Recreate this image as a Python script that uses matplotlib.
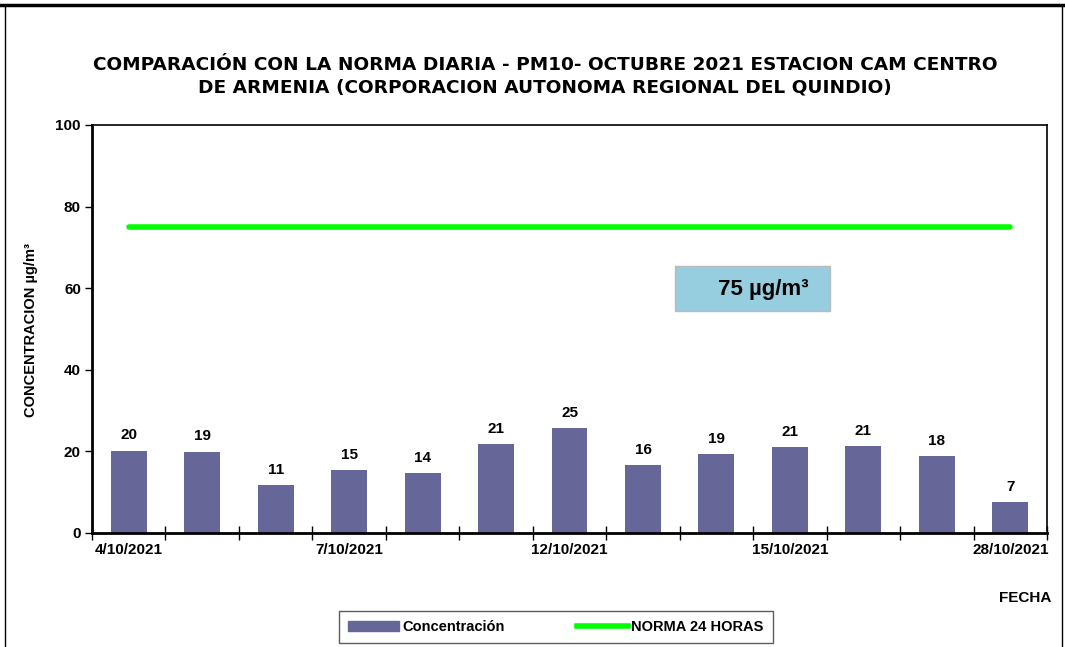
import numpy as np
import matplotlib.pyplot as plt
from matplotlib.lines import Line2D
from matplotlib.patches import Patch, Rectangle

plt.rcParams['font.family'] = ['Liberation Sans', 'DejaVu Sans']

fechas = ["4/10/2021", "5/10/2021", "6/10/2021", "7/10/2021", "8/10/2021",
          "11/10/2021", "12/10/2021", "13/10/2021", "14/10/2021", "15/10/2021",
          "18/10/2021", "19/10/2021", "28/10/2021"]
concentracion = [20.2, 19.9, 11.8, 15.4, 14.6, 21.8, 25.7, 16.6, 19.3, 21.0, 21.3, 18.8, 7.6]
etiquetas = ["20", "19", "11", "15", "14", "21", "25", "16", "19", "21", "21", "18", "7"]
norma = [75] * len(fechas)
ticks_mostrados = [0, 3, 6, 9, 12]

fig = plt.figure(figsize=(10.65, 6.47), dpi=100)
ax = fig.add_axes([92 / 1065, 114 / 647, 955 / 1065, 408 / 647])

x = np.arange(len(fechas))
ax.bar(x, concentracion, width=0.49, color="#666699", label="Concentración", zorder=2)
ax.plot(x, norma, color="#00ff00", lw=4, solid_capstyle="round", label="NORMA 24 HORAS", zorder=3)

for xi, v, t in zip(x, concentracion, etiquetas):
    ax.annotate(t, (xi, v), xytext=(0, 6), textcoords="offset points",
                ha="center", va="bottom", fontsize=11, fontweight="bold")

ax.set_xlim(-0.5, len(fechas) - 0.5)
ax.set_ylim(0, 100)
ax.set_yticks([0, 20, 40, 60, 80, 100])
ax.tick_params(axis="y", direction="out", length=5, width=1, labelsize=11, pad=3)
for lab in ax.get_yticklabels():
    lab.set_fontweight("bold")

# ticks at category boundaries, labels at selected bar centres
ax.set_xticks(np.arange(-0.5, len(fechas) + 0.5, 1))
ax.set_xticklabels([])
ax.tick_params(axis="x", which="major", direction="inout", length=10, width=1)
ax.set_xticks(ticks_mostrados, minor=True)
ax.set_xticklabels([fechas[i] for i in ticks_mostrados], minor=True,
                   fontsize=11, fontweight="bold")
ax.tick_params(axis="x", which="minor", length=0, pad=7)

for s in ["left", "bottom"]:
    ax.spines[s].set_linewidth(2)
for s in ["top", "right"]:
    ax.spines[s].set_linewidth(1.2)

# label box for the standard
ax.add_patch(Rectangle((0.6105, 0.544), 0.1623, 0.110, transform=ax.transAxes,
                       fc="#96cddf", ec="#bbbbbb", lw=1, zorder=4))
ax.text(0.703, 0.598, "75 µg/m³", transform=ax.transAxes, ha="center", va="center",
        fontsize=16, fontweight="bold", zorder=5)

fig.text(545 / 1065, 1 - 76 / 647,
         "COMPARACIÓN CON LA NORMA DIARIA - PM10- OCTUBRE 2021 ESTACION CAM CENTRO\n"
         "DE ARMENIA (CORPORACION AUTONOMA REGIONAL DEL QUINDIO)",
         ha="center", va="center", fontsize=13.3, fontweight="bold", linespacing=1.3,
         family="DejaVu Sans")

fig.text(31 / 1065, 1 - 330 / 647, "CONCENTRACION µg/m³", rotation=90,
         ha="center", va="center", fontsize=10.5, fontweight="bold")
fig.text(1025 / 1065, 1 - 598 / 647, "FECHA", ha="center", va="center",
         fontsize=11, fontweight="bold")

handles = [Patch(color="#666699"), Line2D([], [], color="#00ff00", lw=4)]
leg = fig.legend(handles, ["Concentración", "NORMA 24 HORAS"], loc="center",
                 bbox_to_anchor=(556 / 1065, 1 - 627 / 647), ncol=2, frameon=True,
                 fancybox=False, edgecolor="#333333", fontsize=10.5,
                 handlelength=3.5, handletextpad=0.2, columnspacing=5,
                 borderpad=0.6)
leg.get_frame().set_linewidth(1)
for t in leg.get_texts():
    t.set_fontweight("bold")

# outer frame
fig.add_artist(Line2D([0, 1], [1 - 5 / 647, 1 - 5 / 647], color="black", lw=2.5))
fig.add_artist(Line2D([5 / 1065, 5 / 1065], [0, 1 - 5 / 647], color="black", lw=1))
fig.add_artist(Line2D([1062 / 1065, 1062 / 1065], [0, 1 - 5 / 647], color="black", lw=1))

fig.savefig("out.png", dpi=100)
